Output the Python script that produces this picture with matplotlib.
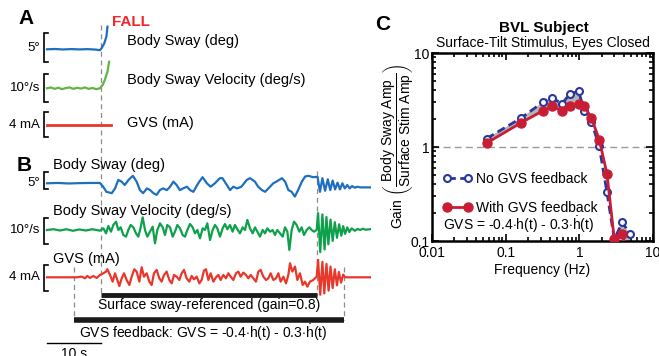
import numpy as np
import matplotlib.pyplot as plt
from matplotlib.ticker import FixedLocator, FixedFormatter, LogLocator, NullFormatter

plt.rcParams['font.family'] = ['Liberation Sans', 'DejaVu Sans']
plt.rcParams['mathtext.fontset'] = 'custom'
plt.rcParams['mathtext.rm'] = 'Liberation Sans'
plt.rcParams['mathtext.it'] = 'Liberation Sans:italic'
plt.rcParams['mathtext.bf'] = 'Liberation Sans:bold'

# ---------------- data ----------------
# Panel A: trial that ends in a fall (time in s)
a_sway_t = [0, 1.5, 3, 4.5, 6, 7.5, 9, 9.8, 10.1, 10.6, 11.0, 11.2]
a_sway = [0, 0.05, -0.03, 0.04, -0.02, 0.03, -0.05, -0.15, 0.17, 1.0, 2.2, 3.9]
a_vel_t = [0, 0.7, 1.4, 2.1, 2.8, 3.5, 4.2, 4.9, 5.6, 6.3, 7.0, 7.7, 8.4, 9.1,
           9.8, 10.3, 10.7, 11.2, 11.5]
a_vel = [0, 0.3, -0.2, 0.2, -0.3, 0.1, 0.3, -0.2, 0.2, -0.1, 0.3, -0.2, 0.1, -0.3,
         0, 1.2, 3.0, 6.0, 9.6]
a_gvs_t = [0, 11.9]
a_gvs = [0, 0]

# Panel B: body sway (deg)
b_sway_t = [0, 2, 4, 6, 8, 9.8, 10.4, 11.0, 12.0, 12.6, 13.2, 13.8, 14.4, 15.1, 15.9,
            16.6, 17.2, 17.8, 18.5, 19.1, 19.7, 20.3, 20.9, 21.5, 22.2, 22.8, 23.4,
            24.0, 24.6, 25.2, 25.9, 26.5, 27.1, 28.0, 28.8, 29.6, 30.3, 31.1, 32.0,
            32.5, 33.3, 33.9, 34.5, 35.2, 36.0, 37.0, 37.6, 38.5, 39.1, 39.8, 40.4,
            41.0, 41.9, 42.5, 43.5, 44.1, 44.7, 45.3, 45.9, 46.5, 47.2, 47.8, 48.4,
            49.3, 50.1, 50.55, 51.0, 51.5, 52.0, 52.45, 52.9, 53.35, 53.8, 54.25,
            54.7, 55.15, 55.6, 56.05, 56.5, 57.0, 57.5, 58.0, 59.0, 59.8]
b_sway = [0, 0.1, -0.05, 0.05, 0.1, 0.1, -1.0, -2.5, -2.9, -1.5, 1.0, 0.5, -0.5, 1.0, 2.2,
          0.5, -2.0, -2.9, -1.5, -2.0, -2.9, -3.4, -2.0, -1.5, -2.0, -1.0, 0.5,
          -0.5, -2.0, -1.5, -1.0, -2.0, -2.5, 0.0, 1.8, 0.0, -1.0, 0.0, 1.5,
          1.5, -0.5, -2.0, -1.0, -1.5, -1.0, 1.0, 1.5, 0.5, -1.0, -2.0, -2.5,
          -1.5, 0.0, 0.5, 1.5, 0.5, -2.0, -2.5, -3.9, -2.0, 0.5, 2.0, 2.2,
          1.8, 1.9, -2.5, 1.5, -2.2, 1.2, -2.0, 0.8, -1.8, 0.2, -1.8,
          0.0, -1.5, -0.5, -1.5, -0.8, -1.3, -1.0, -1.2, -1.2, -1.2]

# Panel B: body sway velocity (deg/s)
b_vel_t = [0, 1.2, 2.4, 3.6, 4.8, 6.0, 7.2, 8.4, 9.81, 10.43, 10.93, 11.36, 11.85,
           12.28, 12.78, 13.21, 13.64, 14.14, 14.63, 15.06, 15.49, 15.99, 16.48,
           16.91, 17.35, 17.72, 18.15, 18.58, 19.07, 19.57, 20.0, 20.43, 20.93,
           21.42, 21.85, 22.28, 22.78, 23.27, 23.70, 24.14, 24.63, 25.12, 25.56,
           25.99, 26.48, 26.98, 27.41, 27.84, 28.33, 28.83, 29.26, 29.69, 30.19,
           30.68, 31.11, 31.54, 32.04, 32.53, 32.96, 33.40, 33.89, 34.38, 34.81,
           35.25, 35.74, 36.23, 36.67, 37.10, 37.59, 38.09, 38.52, 38.95, 39.44,
           39.94, 40.37, 40.80, 41.30, 41.79, 42.22, 42.65, 43.15, 43.64, 44.07,
           44.51, 44.88, 45.31, 45.74, 46.23, 46.73, 47.16, 47.59, 48.09, 48.58,
           49.01, 49.44, 49.94, 50.2, 50.6, 51.0, 51.4, 51.75, 52.1, 52.5, 52.9,
           53.3, 53.7, 54.1, 54.5, 54.85, 55.2, 55.6, 56.0, 56.4, 57.0, 57.5, 58.0,
           58.5, 59.0, 59.8]
b_vel = [0, 0.3, -0.2, 0.3, -0.3, 0.2, -0.2, 0.3, -0.26, 0.64, -1.28, 1.54, -0.64,
         1.92, 3.21, 0, 1.03, -1.92, -2.56, 0, 1.92, 1.03, -1.28,
         -2.56, 1.03, 4.87, 0, -2.56, -0.64, 1.28, -5.13, 0, 2.56,
         1.03, -1.92, 1.92, 1.03, -2.56, -0.64, 1.92, 0.64, -1.92, -2.56,
         0, 2.31, 1.03, -1.28, 0, -3.21, 0.64, 0, 2.56, -3.85,
         0, 1.92, 0.64, -2.56, 0.64, 2.31, 0.26, 1.92, -0.64, 1.92,
         0.26, -1.28, 1.03, 0, 3.85, 0.64, -1.28, 1.03, -0.64, -2.56,
         0, -1.28, 0.64, -0.64, 0, -1.92, 0, -1.28, -2.56, 1.03,
         -0.64, -7.69, 0, 3.21, 1.92, -0.64, 1.03, -1.92, 0, 1.03,
         0, -0.64, 0, 6.5, -8.5, 6.0, -7.5, 5.0, -5.5, 4.0, -4.2,
         3.0, -3.0, 2.2, -2.2, 1.5, -1.5, 1.0, -0.8, 0.6, -0.3, 0.4, 0.0,
         0.5, 0.1, 0.3]

# Panel B: GVS current (mA)
b_gvs_t = [0, 5.0, 5.49, 6.42, 7.04, 7.47, 7.96, 8.58, 9.20, 9.81, 10.43, 10.93, 11.17,
           11.67, 12.16, 12.59, 13.02, 13.40, 13.83, 14.26, 14.75, 15.25, 15.68,
           16.17, 16.60, 17.10, 17.53, 17.96, 18.46, 18.95, 19.38, 19.81, 20.31,
           20.80, 21.23, 21.67, 22.16, 22.65, 23.09, 23.52, 24.01, 24.51, 24.94,
           25.37, 25.86, 26.36, 26.79, 27.22, 27.72, 28.21, 28.64, 29.07, 29.44,
           29.88, 30.31, 30.80, 31.30, 31.73, 32.16, 32.65, 33.15, 33.58, 34.01,
           34.51, 35.0, 35.43, 35.86, 36.36, 36.85, 37.28, 37.72, 38.21, 38.70,
           39.14, 39.57, 40.06, 40.56, 40.99, 41.42, 41.91, 42.41, 42.84, 43.27,
           43.77, 44.26, 44.69, 45.0, 45.43, 45.93, 46.36, 46.85, 47.35, 47.78,
           48.21, 48.70, 49.32, 49.94, 50.2, 50.6, 51.0, 51.35, 51.75, 52.15,
           52.5, 52.9, 53.3, 53.7, 54.05, 54.45, 54.85, 55.2, 59.8]
b_gvs = [0, 0, 0, 0.1, -0.15, 0.2, -0.1, 0.2, -0.1, 0.35, 0.6, 0.85, 1.2,
         0.35, -0.65, 0.6, -0.4, -1.3, -0.15, 0.6, -0.4, -1.15, 0.1,
         1.2, 0.85, -0.65, 1.5, 0.1, 0.6, -0.65, -1.15, 0.6, 1.1,
         -0.15, -0.65, 0.35, 0.85, -0.4, -0.9, 0.35, 0.1, -0.4, 0.6,
         1.1, -0.15, -0.65, 0.2, -0.3, 0.1, -0.9, -0.4, 1.0, 1.2,
         -0.4, 0.6, -0.65, 0, 0.35, -0.4, 0.35, -0.15, 0.6, 0.1,
         -0.4, 0.6, 0.85, 0.1, 0.7, 0.35, -0.15, 0.35, -0.15, -0.65,
         0.85, 1.1, 0.1, -0.4, -0.15, 0.6, -0.4, -0.15, 0.6, -0.65,
         0.1, -0.9, 0.35, 2.1, 0.85, 1.6, -0.4, 0.6, -1.15, -0.65,
         -1.4, -0.65, -0.4, 0.1, 2.6, -2.6, 2.3, -2.4, 2.0, -2.0,
         1.6, -1.6, 1.2, -1.2, 0.8, -0.8, 0.4, 0, 0]

sway_ref_period = (10, 50)    # s
gvs_fb_period = (5, 55)       # s
fall_time = 10

# Panel C: gain vs frequency
freq = np.array([0.055, 0.16, 0.32, 0.43, 0.58, 0.75, 0.98, 1.17, 1.46, 1.86,
                 2.37, 2.98, 3.85, 4.85])
gain_no_gvs = np.array([1.23, 2.02, 3.0, 3.34, 2.88, 3.7, 3.9, 2.4, 1.85, 1.02,
                        0.33, 0.105, 0.158, 0.118])
gain_with_gvs = np.array([1.1, 1.8, 2.43, 2.7, 2.43, 2.75, 2.86, 2.7, 2.04, 1.2,
                          0.52, 0.105, 0.12, 0.05])

# ---------------- layout ----------------
W, H = 659, 356
T0_PX = 47          # pixel of t = 0
PX_PER_S = 5.4
LEFT_W = 380

BLUE = '#1f6fbf'
GREEN_A = '#62b446'
GREEN_B = '#0fa04b'
RED = '#e8372b'

fig = plt.figure(figsize=(W / 100, H / 100), dpi=100)


def ftext(x, y, s, **kw):
    fig.text(x / W, 1 - y / H, s, **kw)


def trace_axes(base_px, px_per_unit):
    ax = fig.add_axes([0, 0, LEFT_W / W, 1])
    ax.set_xlim(-T0_PX / PX_PER_S, (LEFT_W - T0_PX) / PX_PER_S)
    ax.set_ylim(-(H - base_px) / px_per_unit, base_px / px_per_unit)
    ax.axis('off')
    ax.patch.set_alpha(0)
    return ax


def bracket(ax, lo, size):
    ax.plot([0.1, -0.6, -0.6, 0.1], [lo, lo, lo + size, lo + size],
            color='k', lw=1.2, solid_joinstyle='miter', clip_on=False)


# master axes: x in seconds, y in pixels
axL = trace_axes(0, -1)
dash = dict(color='#8c8c8c', lw=0.9, ls=(0, (4, 3)))
axL.plot([fall_time, fall_time], [25, 295], **dash)
axL.plot([sway_ref_period[1]] * 2, [171, 295], **dash)
axL.plot([gvs_fb_period[0]] * 2, [267, 320], **dash)
axL.plot([gvs_fb_period[1]] * 2, [267, 320], **dash)
axL.plot(sway_ref_period, [295, 295], color='#1a1a1a', lw=3.5, solid_capstyle='butt')
axL.plot(gvs_fb_period, [320, 320], color='#1a1a1a', lw=4, solid_capstyle='butt')
axL.plot([0, 10], [343, 343], color='k', lw=1)
axL.text(5, 347, '10 s', ha='center', va='top', fontsize=10)
axL.text(30, 305, 'Surface sway-referenced (gain=0.8)', ha='center', va='center',
         fontsize=10)
axL.text(29, 333, r'GVS feedback: GVS = -0.4$\cdot$h(t) - 0.3$\cdot\dot{\mathrm{h}}$(t)',
         ha='center', va='center', fontsize=10)

# panel A traces
ax = trace_axes(49.3, 5.8)
ax.plot(a_sway_t, a_sway, color=BLUE, lw=1.6, clip_on=False)
bracket(ax, -2.2, 5)
ax = trace_axes(88.3, 2.77)
ax.plot(a_vel_t, a_vel, color=GREEN_A, lw=1.6, clip_on=False)
bracket(ax, -4.8, 10)
ax = trace_axes(125, 6.4)
ax.plot(a_gvs_t, a_gvs, color=RED, lw=2)
bracket(ax, -1.9, 4)

# panel B traces
ax = trace_axes(183.3, 3.4)
ax.plot(b_sway_t, b_sway, color=BLUE, lw=1.6)
bracket(ax, -1.7, 5)
ax = trace_axes(230, 2.6)
ax.plot(b_vel_t, b_vel, color=GREEN_B, lw=1.6)
bracket(ax, -5.4, 10)
ax = trace_axes(277.3, 6.7)
ax.plot(b_gvs_t, b_gvs, color=RED, lw=1.6)
bracket(ax, -2.1, 4)

# left-side texts
ftext(18, 18, 'A', fontsize=15, fontweight='bold', va='center')
ftext(17, 165, 'B', fontsize=15, fontweight='bold', va='center')
ftext(112, 22, 'FALL', fontsize=11, fontweight='bold', color='#ee2a2a', va='center')
for y, s in [(41, 'Body Sway (deg)'), (80, 'Body Sway Velocity (deg/s)'), (123, 'GVS (mA)')]:
    ftext(127, y, s, fontsize=10.5, va='center')
for y, s in [(165, 'Body Sway (deg)'), (211, 'Body Sway Velocity (deg/s)'), (259, 'GVS (mA)')]:
    ftext(53, y, s, fontsize=10.5, va='center')
for y, s in [(48, '5°'), (88, '10°/s'), (125, '4 mA'),
             (183, '5°'), (230, '10°/s'), (277, '4 mA')]:
    ftext(40, y, s, fontsize=9.5, ha='right', va='center')

# ---------------- panel C ----------------
axC = fig.add_axes([432 / W, 1 - 241 / H, 221 / W, 188 / H])
axC.set_xscale('log')
axC.set_yscale('log')
axC.axhline(1, color='#9a9a9a', lw=1, ls=(0, (5, 3)), zorder=1)
axC.fill_between(freq, gain_with_gvs, gain_no_gvs, where=gain_no_gvs >= gain_with_gvs,
                 interpolate=True, color='#b5b5b5', lw=0, zorder=2)
axC.plot(freq, gain_no_gvs, color='#2a379b', lw=2, ls=(0, (3, 1.6)), marker='o', ms=5,
         mfc='white', mec='#2a379b', mew=1.5, label='No GVS feedback', zorder=3)
axC.plot(freq, gain_with_gvs, color='#c81d35', lw=2, marker='o', ms=6.5,
         mfc='#c81d35', mec='#c81d35', label='With GVS feedback', zorder=4)
axC.set_xlim(0.01, 10)
axC.set_ylim(0.1, 10)
axC.xaxis.set_major_locator(FixedLocator([0.01, 0.1, 1, 10]))
axC.xaxis.set_major_formatter(FixedFormatter(['0.01', '0.1', '1', '10']))
axC.yaxis.set_major_locator(FixedLocator([0.1, 1, 10]))
axC.yaxis.set_major_formatter(FixedFormatter(['0.1', '1', '10']))
for a in (axC.xaxis, axC.yaxis):
    a.set_minor_locator(LogLocator(base=10, subs=np.arange(2, 10)))
    a.set_minor_formatter(NullFormatter())
axC.tick_params(which='both', direction='in', top=True, right=True, width=1.2,
                labelsize=10, pad=2)
axC.tick_params(axis='x', which='major', pad=3.5)
axC.tick_params(which='major', length=5)
axC.tick_params(which='minor', length=3)
for sp in axC.spines.values():
    sp.set_linewidth(1.8)
axC.set_xlabel('Frequency (Hz)', fontsize=10, labelpad=2)
axC.set_ylabel(r'Gain $\left(\dfrac{\mathrm{Body\ Sway\ Amp}}{\mathrm{Surface\ Stim\ Amp}}\right)$',
               fontsize=10, labelpad=-4)
axC.legend(loc='lower left', bbox_to_anchor=(0.03, 0.115), frameon=False, fontsize=10,
           handlelength=2.1, handletextpad=0.3, labelspacing=1.1, numpoints=2,
           borderaxespad=0, borderpad=0.3)
ftext(443, 225, r'GVS = -0.4$\cdot$h(t) - 0.3$\cdot\dot{\mathrm{h}}$(t)', fontsize=10,
      va='center')
ftext(544, 28, 'BVL Subject', fontsize=11, fontweight='bold', ha='center', va='center')
ftext(543, 43, 'Surface-Tilt Stimulus, Eyes Closed', fontsize=10, ha='center',
      va='center')
ftext(375, 24, 'C', fontsize=15, fontweight='bold', va='center')

fig.savefig('out.png', dpi=100)
